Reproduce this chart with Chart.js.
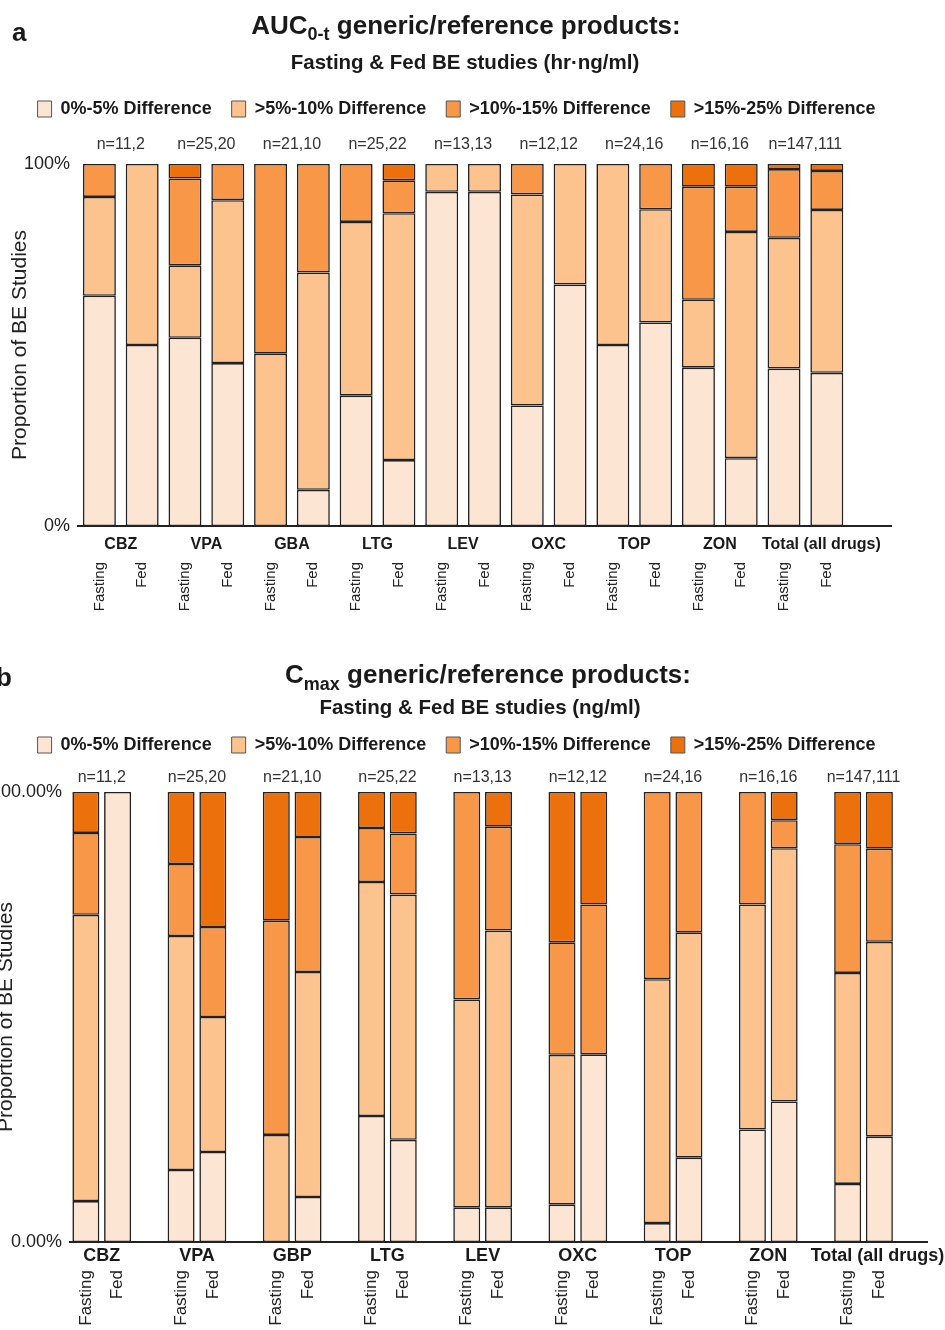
<!DOCTYPE html>
<html>
<head>
<meta charset="utf-8">
<script src="https://cdn.jsdelivr.net/npm/chart.js@4.4.1/dist/chart.umd.min.js"></script>
<style>
html, body { margin: 0; padding: 0; background: #fff; }
#wrap { position: relative; width: 945px; height: 1330px; overflow: hidden; }
canvas { position: absolute; left: 0; }
#aucChart { top: 0; }
#cmaxChart { top: 630px; }
</style>
</head>
<body>
<div id="wrap">
  <canvas id="aucChart" width="945" height="630"></canvas>
  <canvas id="cmaxChart" width="945" height="700"></canvas>
</div>
<script>
// categories
const bands = ['0%-5% Difference', '>5%-10% Difference', '>10%-15% Difference', '>15%-25% Difference'];
const conditions = ['Fasting', 'Fed'];
const drugsAuc = ['CBZ', 'VPA', 'GBA', 'LTG', 'LEV', 'OXC', 'TOP', 'ZON', 'Total (all drugs)'];
const drugsCmax = ['CBZ', 'VPA', 'GBP', 'LTG', 'LEV', 'OXC', 'TOP', 'ZON', 'Total (all drugs)'];
const studyCounts = ['n=11,2', 'n=25,20', 'n=21,10', 'n=25,22', 'n=13,13', 'n=12,12', 'n=24,16', 'n=16,16', 'n=147,111'];
const yTicksAuc = ['0%', '100%'];
const yTicksCmax = ['0.00%', '100.00%'];

// % of studies, Fasting/Fed pairs per drug
const auc0to5   = [63.6, 50, 52, 45, 0, 10, 36, 18.2, 92.3, 92.3, 33.3, 66.7, 50, 56.25, 43.75, 18.75, 43.5, 42.3];
const auc5to10  = [27.3, 50, 20, 45, 47.6, 60, 48, 68.2, 7.7, 7.7, 58.3, 33.3, 50, 31.25, 18.75, 62.5, 36.1, 45.0];
const auc10to15 = [9.1, 0, 24, 10, 52.4, 30, 16, 9.1, 0, 0, 8.4, 0, 0, 12.5, 31.25, 12.5, 19.0, 10.8];
const auc15to25 = [0, 0, 4, 0, 0, 0, 0, 4.5, 0, 0, 0, 0, 0, 0, 6.25, 6.25, 1.4, 1.9];

const cmax0to5   = [9.1, 100, 16, 20, 0, 10, 28, 22.7, 7.7, 7.7, 8.3, 41.7, 4.2, 18.75, 25, 31.25, 12.9, 23.4];
const cmax5to10  = [63.6, 0, 52, 30, 23.8, 50, 52, 54.5, 46.2, 61.5, 33.3, 0, 54.2, 50, 50, 56.25, 46.9, 43.3];
const cmax10to15 = [18.2, 0, 16, 20, 47.6, 30, 12, 13.6, 46.1, 23.1, 25, 33.3, 41.6, 31.25, 25, 6.25, 28.6, 20.7];
const cmax15to25 = [9.1, 0, 16, 30, 28.6, 10, 8, 9.2, 0, 7.7, 33.4, 25, 0, 0, 0, 6.25, 11.6, 12.6];

const bandColors = ['#fde5d3', '#fcc38f', '#f89747', '#ec700c'];
const FONT = '"Liberation Sans", Arial, sans-serif';

Chart.defaults.font.family = FONT;
Chart.defaults.color = '#222';

// spread Fasting/Fed pairs over slots; perGroup 3 leaves an empty slot after each pair
function toSlots(values, perGroup) {
    const out = [];
    for (let i = 0; i < values.length; i += 2) {
        out.push(values[i], values[i + 1]);
        if (perGroup === 3) out.push(null);
    }
    if (perGroup === 2) out.push(null);
    return out;
}

function slotLabels(groupCount, perGroup) {
    const out = [];
    for (let i = 0; i < groupCount; i++) {
        out.push(...conditions);
        if (perGroup === 3) out.push('');
    }
    if (perGroup === 2) out.push('');
    return out;
}

// fixed legend height, and a sideways nudge of the legend row
const legendBox = {
    id: 'legendBox',
    beforeInit(chart, args, opts) {
        const fit = chart.legend.fit;
        chart.legend.fit = function () {
            fit.call(this);
            this.height = opts.height;
        };
    },
    afterLayout(chart, args, opts) {
        chart.legend.left += opts.shift;
        chart.legend.right += opts.shift;
    }
};

const panelText = {
    id: 'panelText',
    afterDraw(chart, args, o) {
        const { ctx, chartArea } = chart;
        const x = chart.scales.x;
        ctx.save();
        ctx.fillStyle = '#1a1a1a';
        ctx.textBaseline = 'alphabetic';
        ctx.textAlign = 'left';
        ctx.font = 'bold 26px ' + FONT;
        ctx.fillText(o.letter, o.letterX, o.letterY);

        const bigFont = 'bold 26px ' + FONT;
        const subFont = 'bold 18px ' + FONT;
        ctx.font = bigFont;
        const w1 = ctx.measureText(o.titleMain).width;
        const w3 = ctx.measureText(o.titleRest).width;
        ctx.font = subFont;
        const w2 = ctx.measureText(o.titleSub).width;
        let tx = o.titleX - (w1 + w2 + w3) / 2;
        ctx.font = bigFont;
        ctx.fillText(o.titleMain, tx, o.titleY);
        tx += w1;
        ctx.font = subFont;
        ctx.fillText(o.titleSub, tx, o.titleY + o.subDrop);
        tx += w2;
        ctx.font = bigFont;
        ctx.fillText(o.titleRest, tx, o.titleY);

        ctx.textAlign = 'center';
        ctx.font = 'bold 20.5px ' + FONT;
        ctx.fillText(o.subtitle, o.subtitleX, o.subtitleY);

        ctx.textBaseline = 'middle';
        const last = o.groups.length - 1;
        o.groups.forEach((g, i) => {
            const cx = (x.getPixelForValue(i * o.perGroup) + x.getPixelForValue(i * o.perGroup + 1)) / 2;
            ctx.font = 'bold ' + o.groupSize + 'px ' + FONT;
            ctx.fillStyle = '#1a1a1a';
            ctx.fillText(g, cx + (i === last ? o.lastShift : 0), chartArea.bottom + o.groupGap);
            ctx.font = '16px ' + FONT;
            ctx.fillStyle = '#333';
            ctx.fillText(o.counts[i], cx, chartArea.top - o.countGap);
        });
        ctx.restore();
    }
};

function buildPanel(canvasId, bandValues, yTicks, s) {
    const perGroup = s.text.perGroup;
    return new Chart(document.getElementById(canvasId), {
        type: 'bar',
        data: {
            labels: slotLabels(s.text.groups.length, perGroup),
            datasets: bandValues.map((vals, i) => ({
                label: bands[i],
                data: toSlots(vals, perGroup),
                backgroundColor: bandColors[i],
                borderColor: '#222',
                borderWidth: 1.6,
                borderSkipped: false,
                barPercentage: s.barPct,
                categoryPercentage: 1
            }))
        },
        options: {
            responsive: false,
            animation: false,
            devicePixelRatio: 1,
            layout: { padding: { top: s.padTop, right: s.padRight, left: 0, bottom: 0 } },
            plugins: {
                tooltip: { enabled: false },
                legend: {
                    position: 'top',
                    labels: {
                        boxWidth: 14,
                        boxHeight: 16,
                        padding: 20,
                        color: '#1a1a1a',
                        font: { size: 18, weight: 'bold' },
                        generateLabels(chart) {
                            return Chart.defaults.plugins.legend.labels.generateLabels(chart)
                                .map(item => Object.assign(item, { lineWidth: 1, strokeStyle: '#555' }));
                        }
                    }
                },
                legendBox: { height: s.legendH, shift: s.legendShift },
                panelText: s.text
            },
            scales: {
                x: {
                    stacked: true,
                    grid: { display: false, drawTicks: false },
                    border: { display: true, color: '#222', width: 2 },
                    ticks: {
                        autoSkip: false,
                        minRotation: 90,
                        maxRotation: 90,
                        padding: s.tickPad,
                        color: '#222',
                        font: { size: s.tickSize }
                    },
                    afterFit: scale => {
                        scale.height = s.xHeight;
                        scale.paddingLeft = 0;
                        scale.paddingRight = 0;
                    }
                },
                y: {
                    stacked: true,
                    min: 0,
                    max: 100,
                    grid: { display: false, drawTicks: false },
                    border: { display: false },
                    ticks: {
                        stepSize: 100,
                        padding: 8,
                        color: '#222',
                        font: { size: 18 },
                        callback: (v, i) => yTicks[i]
                    },
                    title: {
                        display: true,
                        text: 'Proportion of BE Studies',
                        color: '#222',
                        font: { size: 21 },
                        padding: { top: s.yTitlePad, bottom: 0 }
                    },
                    afterFit: scale => { scale.width = s.yWidth; }
                }
            }
        },
        plugins: [legendBox, panelText]
    });
}

buildPanel('aucChart', [auc0to5, auc5to10, auc10to15, auc15to25], yTicksAuc, {
    barPct: 0.77, padTop: 80, padRight: 54, legendH: 84, legendShift: 11, yWidth: 78, xHeight: 104,
    tickPad: 36, tickSize: 15, yTitlePad: 8,
    text: {
        perGroup: 2, groups: drugsAuc, counts: studyCounts, groupSize: 16, groupGap: 19, countGap: 19,
        lastShift: 16,
        letter: 'a', letterX: 12, letterY: 41,
        titleMain: 'AUC', titleSub: '0-t', titleRest: ' generic/reference products:',
        titleX: 466, titleY: 34, subDrop: 6,
        subtitle: 'Fasting & Fed BE studies (hr\u00b7ng/ml)', subtitleX: 465, subtitleY: 69
    }
});

buildPanel('cmaxChart', [cmax0to5, cmax5to10, cmax10to15, cmax15to25], yTicksCmax, {
    barPct: 0.85, padTop: 86, padRight: 18, legendH: 76, legendShift: -7, yWidth: 70, xHeight: 88,
    tickPad: 28, tickSize: 17, yTitlePad: -6,
    text: {
        perGroup: 3, groups: drugsCmax, counts: studyCounts, groupSize: 18, groupGap: 14, countGap: 14,
        lastShift: 14,
        letter: 'b', letterX: -4, letterY: 56,
        titleMain: 'C', titleSub: 'max', titleRest: ' generic/reference products:',
        titleX: 488, titleY: 53, subDrop: 7,
        subtitle: 'Fasting & Fed BE studies (ng/ml)', subtitleX: 480, subtitleY: 84
    }
});
</script>
</body>
</html>
